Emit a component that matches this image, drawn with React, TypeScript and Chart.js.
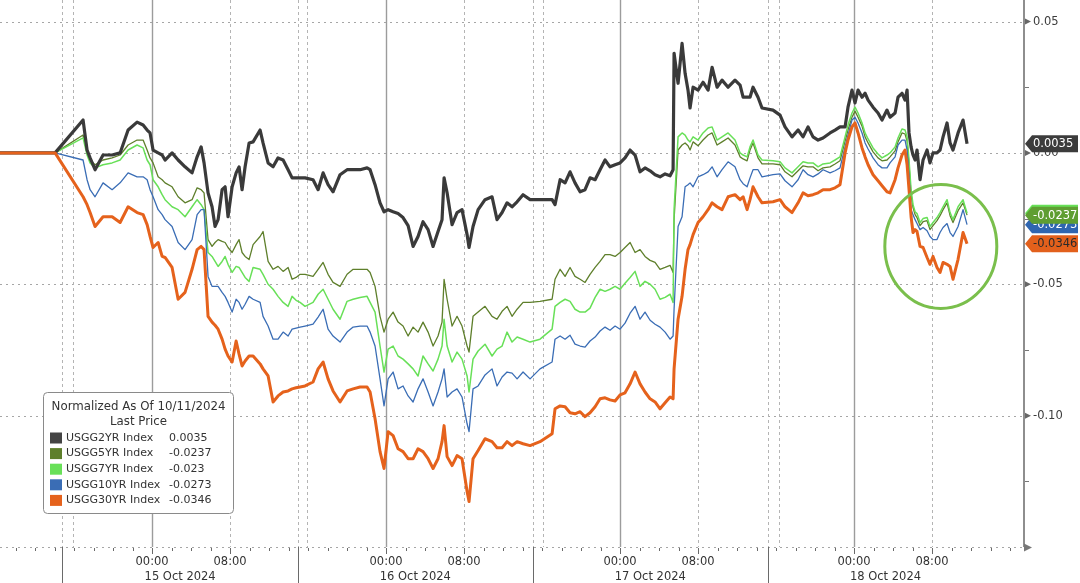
import { useEffect, useRef } from 'react';
import Chart from 'chart.js/auto';

// hours after 00:00 on 15 Oct 2024
const times = [
  // 14 Oct afternoon
  -15.6, -9.95, -7.08, -6.67, -6.36, -5.85, -5.03, -4.1, -3.28, -2.46, -1.54,
  // 15 Oct
  -0.92, -0.51, -0.21, 0.1, 0.62, 1.03, 1.33, 2.05, 2.67, 3.38,
  4.1, 4.62, 5.03, 5.33, 5.74, 6.15, 6.46, 6.77, 7.18, 7.49,
  7.79, 8.21, 8.62, 8.92, 9.23, 9.54, 9.95, 10.36, 11.08, 11.38,
  11.9, 12.41, 12.92, 13.44, 13.95, 14.36, 14.77, 15.18, 15.69,
  16.51, 17.03, 17.54, 18.05, 18.56, 19.28, 20.0, 20.62, 21.33, 22.05,
  // 16 Oct
  22.36, 22.87, 23.38, 23.79, 24.21, 24.72, 25.23, 25.74, 26.26, 26.77,
  27.28, 27.79, 28.31, 28.82, 29.33, 29.74, 29.95, 30.26, 30.77, 31.28,
  31.79, 32.31, 32.51, 32.92, 33.44, 34.15, 34.87, 35.38, 35.9, 36.41,
  36.92, 37.44, 38.05, 38.77, 39.79, 41.03,
  // 17 Oct
  41.33, 41.85, 42.36, 42.87, 43.38, 43.9, 44.41, 44.92, 45.44, 45.95,
  46.46, 46.97, 47.49, 48.0, 48.51, 49.03, 49.54, 50.05, 50.56, 51.08,
  51.59, 52.1, 52.62, 53.13, 53.44,
  53.54, 53.95, 54.36, 54.67, 54.97, 55.18, 55.49, 56.0, 56.51, 57.03,
  57.44, 57.95, 58.46, 59.08, 59.79, 60.31, 60.62, 61.03, 61.33, 61.64,
  62.15, 62.56, 63.69, 64.41, 64.92, 65.64, 66.26, 66.77, 67.28, 67.79,
  68.31, 68.82, 69.54, 70.05, 70.56,
  // 18 Oct
  71.08, 71.38, 71.79, 72.1, 72.41, 72.82, 73.13, 73.44, 73.95, 74.46,
  74.87, 75.38, 75.69, 76.21, 76.51, 76.92, 77.23, 77.44, 77.64, 77.85,
  78.05, 78.26, 78.46, 78.77, 79.08, 79.49, 79.79, 80.1, 80.51, 80.82,
  81.13, 81.54, 81.85, 82.15, 82.67, 83.18, 83.59,
];

const usgg2yr = [
  0, 0, 0.0125, 0.0011, -0.0019, -0.0064, -0.0008, -0.0008, 0, 0.0087, 0.0117,
  0.0106, 0.0087, 0.0076, 0.0011, 0, -0.0008, -0.0027, 0, -0.0027, -0.0053,
  -0.0076, -0.0015, 0.0023, -0.0038, -0.0152, -0.0205, -0.028, -0.0254, -0.014, -0.0129,
  -0.0243, -0.0129, -0.0076, -0.0053, -0.014, -0.0053, 0.0038, 0.0042, 0.0087, 0.0038,
  -0.0038, -0.0053, -0.0019, -0.0027, -0.0064, -0.0095, -0.0095, -0.0095, -0.0095,
  -0.0102, -0.014, -0.0076, -0.0121, -0.0148, -0.0083, -0.0064, -0.0064, -0.0064, -0.0057,
  -0.0064, -0.0121, -0.019, -0.0224, -0.0216, -0.0224, -0.0231, -0.0246, -0.0277, -0.0356,
  -0.0318, -0.0262, -0.0292, -0.0356, -0.0299, -0.0254, -0.0095, -0.0152, -0.0273, -0.0227,
  -0.0216, -0.0311, -0.036, -0.028, -0.0216, -0.0178, -0.0167, -0.0254, -0.0227, -0.019,
  -0.0205, -0.0186, -0.0159, -0.0178, -0.0178, -0.0178,
  -0.0197, -0.0102, -0.0114, -0.0072, -0.0114, -0.0148, -0.014, -0.0095, -0.0102, -0.0064,
  -0.0027, -0.0053, -0.0045, -0.0038, -0.0019, 0.0011, -0.0008, -0.0072, -0.0057, -0.0068,
  -0.0083, -0.0091, -0.008, -0.0087, -0.0064,
  0.0379, 0.0265, 0.0417, 0.0303, 0.0239, 0.0171, 0.025, 0.0239, 0.0269, 0.0239,
  0.0326, 0.025, 0.0277, 0.025, 0.0277, 0.0258, 0.0212, 0.0212, 0.0212, 0.025,
  0.0212, 0.0171, 0.0163, 0.0144, 0.0099, 0.0061, 0.0087, 0.0061, 0.0099, 0.0061,
  0.0049, 0.0057, 0.0076, 0.0087, 0.0099,
  0.0099, 0.0174, 0.0239, 0.019, 0.0239, 0.0212, 0.0227, 0.0201, 0.0174, 0.0152,
  0.0125, 0.0163, 0.0136, 0.0152, 0.0212, 0.0227, 0.0201, 0.0239, 0.0076, 0.0023,
  -0.0008, -0.0027, 0.0011, -0.0102, -0.0027, 0.0011, -0.0038, 0, 0, 0.0011,
  0.0061, 0.0114, 0.0038, 0.0011, 0.0076, 0.0125, 0.0035,
];

const usgg5yr = [
  0, 0, 0.0068, 0.0011, -0.0027, -0.0045, -0.0027, -0.0019, -0.0008, 0.003, 0.0049,
  0.0049, 0.0011, -0.0019, -0.0038, -0.0091, -0.0102, -0.0114, -0.0129, -0.0167, -0.019,
  -0.0178, -0.0133, -0.014, -0.0152, -0.033, -0.0356, -0.0341, -0.033, -0.0337, -0.0341,
  -0.036, -0.0379, -0.0349, -0.033, -0.0379, -0.0394, -0.0406, -0.0349, -0.0318, -0.0299,
  -0.0413, -0.0443, -0.0432, -0.0451, -0.0436, -0.0481, -0.0474, -0.0462, -0.0462,
  -0.047, -0.0443, -0.0417, -0.0462, -0.0493, -0.0508, -0.0462, -0.0443, -0.0443, -0.0443,
  -0.0455, -0.0508, -0.0622, -0.0682, -0.0633, -0.0606, -0.0644, -0.0659, -0.0697, -0.0663,
  -0.0682, -0.0644, -0.0682, -0.0735, -0.0697, -0.0644, -0.0481, -0.0557, -0.0659, -0.0622,
  -0.0659, -0.0735, -0.0758, -0.0622, -0.0606, -0.0584, -0.0622, -0.0633, -0.0603, -0.0584,
  -0.0622, -0.0595, -0.0569, -0.0569, -0.0565, -0.0557,
  -0.0481, -0.0443, -0.047, -0.0436, -0.047, -0.0481, -0.0493, -0.0462, -0.0436, -0.0413,
  -0.0387, -0.0387, -0.0394, -0.0379, -0.036, -0.0341, -0.0379, -0.0368, -0.0394, -0.0409,
  -0.0417, -0.0443, -0.0436, -0.0428, -0.0455,
  -0.0254, 0.0011, 0.003, 0.0038, 0.0027, 0.0011, 0.0042, 0.0027, 0.0049, 0.0068,
  0.0076, 0.003, 0.0042, 0.0057, 0.003, -0.0015, -0.0023, -0.003, 0.0011, 0.0038,
  -0.0019, -0.0042, -0.0042, -0.0045, -0.0072, -0.0091, -0.0068, -0.0049, -0.0053, -0.0053,
  -0.0068, -0.0057, -0.0053, -0.0042, -0.003,
  0.0045, 0.0087, 0.0136, 0.0159, 0.0136, 0.0102, 0.0061, 0.0038, 0.0004, -0.0019,
  -0.003, -0.0027, -0.0015, 0.0008, 0.0042, 0.0076, 0.0072, 0.0045, -0.0045, -0.0159,
  -0.0208, -0.0235, -0.0246, -0.0277, -0.0262, -0.0258, -0.0292, -0.0277, -0.0258, -0.0239,
  -0.0216, -0.019, -0.0239, -0.0265, -0.022, -0.019, -0.0237,
];

const usgg7yr = [
  0, 0, 0.0057, -0.0008, -0.0038, -0.0057, -0.0045, -0.0038, -0.0027, 0.0011, 0.003,
  0.0019, -0.0027, -0.0045, -0.0102, -0.0129, -0.0159, -0.0178, -0.0205, -0.0216, -0.0243,
  -0.0205, -0.0178, -0.0197, -0.0216, -0.0379, -0.0394, -0.0413, -0.0432, -0.0413, -0.0394,
  -0.0424, -0.0455, -0.0432, -0.0436, -0.0455, -0.0474, -0.0489, -0.0436, -0.0443, -0.0462,
  -0.05, -0.0519, -0.0546, -0.0569, -0.0584, -0.0546, -0.0561, -0.0569, -0.0584,
  -0.0569, -0.0538, -0.0519, -0.0557, -0.0595, -0.0633, -0.0565, -0.0557, -0.055, -0.0546,
  -0.0569, -0.0606, -0.0735, -0.0834, -0.0747, -0.0735, -0.0773, -0.0785, -0.0803, -0.0822,
  -0.0849, -0.0773, -0.0803, -0.083, -0.0785, -0.0735, -0.0633, -0.0735, -0.0796, -0.0758,
  -0.0785, -0.0849, -0.091, -0.0785, -0.0754, -0.0728, -0.0773, -0.0747, -0.0735, -0.0682,
  -0.072, -0.0701, -0.0709, -0.072, -0.0709, -0.0671,
  -0.0584, -0.0569, -0.0557, -0.0565, -0.0595, -0.0606, -0.0606, -0.0591, -0.055, -0.0519,
  -0.0527, -0.0519, -0.0508, -0.0519, -0.0496, -0.0474, -0.0451, -0.0508, -0.0489, -0.05,
  -0.0519, -0.0557, -0.055, -0.0538, -0.0569,
  -0.0216, 0.0061, 0.0076, 0.0068, 0.0049, 0.0042, 0.0061, 0.0049, 0.0076, 0.0095,
  0.0099, 0.0049, 0.0061, 0.0076, 0.0049, 0, -0.0008, -0.0015, 0.0023, 0.0049,
  -0.0008, -0.0027, -0.003, -0.0034, -0.0057, -0.0076, -0.0053, -0.0034, -0.0038, -0.0038,
  -0.0053, -0.0042, -0.0038, -0.0027, -0.0015,
  0.0061, 0.0106, 0.0152, 0.0174, 0.0152, 0.0114, 0.0076, 0.0053, 0.0019, -0.0004,
  -0.0019, -0.0008, 0, 0.0023, 0.0057, 0.0091, 0.0087, 0.0061, -0.0027, -0.014,
  -0.0197, -0.0224, -0.0231, -0.0265, -0.025, -0.0246, -0.028, -0.0265, -0.0246, -0.0227,
  -0.0205, -0.0178, -0.0227, -0.0254, -0.0205, -0.0178, -0.023,
];

const usgg10yr = [
  0, 0, -0.0027, -0.0102, -0.014, -0.0167, -0.0114, -0.014, -0.0114, -0.0076, -0.0091,
  -0.0091, -0.0102, -0.014, -0.0167, -0.0216, -0.0235, -0.0254, -0.028, -0.0341, -0.0368,
  -0.033, -0.0235, -0.0216, -0.0216, -0.047, -0.0508, -0.0508, -0.0508, -0.0531, -0.0546,
  -0.0569, -0.0606, -0.0557, -0.0569, -0.0595, -0.0576, -0.0546, -0.0557, -0.0569, -0.0622,
  -0.0659, -0.0709, -0.0709, -0.0682, -0.0697, -0.0671, -0.0667, -0.0663, -0.0659,
  -0.0652, -0.0625, -0.0595, -0.0671, -0.0697, -0.072, -0.0682, -0.0663, -0.0659, -0.0659,
  -0.0682, -0.0735, -0.086, -0.0963, -0.086, -0.0834, -0.0898, -0.0887, -0.0925, -0.0948,
  -0.0898, -0.086, -0.091, -0.0963, -0.091, -0.086, -0.0822, -0.0929, -0.091, -0.0898,
  -0.0929, -0.1031, -0.1061, -0.0898, -0.0887, -0.0845, -0.0822, -0.0887, -0.0853, -0.0834,
  -0.0838, -0.086, -0.0834, -0.086, -0.0822, -0.0796,
  -0.0709, -0.0697, -0.0709, -0.0694, -0.0728, -0.0735, -0.0739, -0.0716, -0.0701, -0.0678,
  -0.0663, -0.0675, -0.0659, -0.0671, -0.0648, -0.061, -0.0584, -0.0633, -0.0606, -0.0637,
  -0.0652, -0.0663, -0.0682, -0.0709, -0.0697,
  -0.0595, -0.028, -0.0243, -0.0129, -0.0121, -0.0114, -0.0129, -0.0091, -0.0083, -0.0072,
  -0.0053, -0.0091, -0.0064, -0.0034, -0.0053, -0.0102, -0.0117, -0.0129, -0.0095, -0.0064,
  -0.0064, -0.0091, -0.0083, -0.008, -0.0106, -0.0129, -0.0102, -0.0064, -0.0083, -0.0091,
  -0.008, -0.0064, -0.0076, -0.0068, -0.0057,
  0.0023, 0.0068, 0.0125, 0.0136, 0.0114, 0.0076, 0.0038, 0.0015, -0.0019, -0.0045,
  -0.0057, -0.0057, -0.0038, -0.0015, 0.003, 0.0049, 0.0049, 0.0011, -0.0083, -0.0216,
  -0.0235, -0.0254, -0.0269, -0.0292, -0.0284, -0.0296, -0.0318, -0.033, -0.033, -0.0303,
  -0.0284, -0.0269, -0.0303, -0.0318, -0.028, -0.0216, -0.0273,
];

const usgg30yr = [
  0, 0, -0.0167, -0.0197, -0.0227, -0.028, -0.0243, -0.0243, -0.0265, -0.0205, -0.0227,
  -0.0235, -0.0273, -0.0318, -0.036, -0.0341, -0.0394, -0.0398, -0.0436, -0.0557, -0.0531,
  -0.0443, -0.0368, -0.0356, -0.0368, -0.0622, -0.0644, -0.0656, -0.0671, -0.0709, -0.0747,
  -0.0773, -0.0796, -0.0716, -0.0766, -0.0811, -0.0792, -0.0773, -0.0773, -0.0803, -0.0822,
  -0.0849, -0.0948, -0.0925, -0.091, -0.0906, -0.0898, -0.0894, -0.0891, -0.0887,
  -0.0872, -0.0822, -0.0796, -0.086, -0.0906, -0.0948, -0.0906, -0.0898, -0.0891, -0.0891,
  -0.091, -0.1012, -0.1137, -0.1201, -0.1061, -0.1076, -0.1126, -0.1137, -0.1164, -0.1164,
  -0.1126, -0.1137, -0.1164, -0.1201, -0.1164, -0.1099, -0.1038, -0.1156, -0.119, -0.1152,
  -0.1164, -0.1289, -0.1327, -0.1164, -0.1133, -0.1088, -0.1099, -0.1122, -0.1122, -0.1099,
  -0.1114, -0.1099, -0.1107, -0.1114, -0.1099, -0.1069,
  -0.0974, -0.0963, -0.0966, -0.0989, -0.0993, -0.0985, -0.1004, -0.0989, -0.0966, -0.0936,
  -0.0932, -0.094, -0.0944, -0.0921, -0.0913, -0.0879, -0.0834, -0.0879, -0.091, -0.0936,
  -0.0948, -0.0974, -0.0951, -0.0929, -0.0936,
  -0.0822, -0.0633, -0.0546, -0.0443, -0.0368, -0.0349, -0.0311, -0.0265, -0.0243, -0.0216,
  -0.019, -0.0205, -0.0216, -0.0167, -0.0159, -0.0178, -0.0167, -0.0216, -0.0178, -0.0129,
  -0.0167, -0.019, -0.0186, -0.0178, -0.0205, -0.0227, -0.019, -0.0152, -0.0163, -0.0159,
  -0.0152, -0.014, -0.014, -0.0133, -0.0121,
  0, 0.0049, 0.0099, 0.0114, 0.0076, 0.0019, -0.0015, -0.0045, -0.0083, -0.0106,
  -0.0125, -0.0148, -0.0152, -0.0102, -0.0057, -0.0008, 0.0011, -0.0045, -0.014, -0.0243,
  -0.0303, -0.0292, -0.0299, -0.0356, -0.036, -0.0398, -0.0424, -0.0394, -0.0436, -0.0455,
  -0.0417, -0.0424, -0.0432, -0.0481, -0.0405, -0.0303, -0.0346,
];

const seriesNames = ['USGG2YR Index', 'USGG5YR Index', 'USGG7YR Index', 'USGG10YR Index', 'USGG30YR Index'];
const lastPrices = ['0.0035', '-0.0237', '-0.023', '-0.0273', '-0.0346'];
const seriesColors = ['#3a3a3a', '#5e7f2b', '#68e058', '#3a6db5', '#e5621c'];
const tagColors = ['#3c3c3c', '#5f9e32', '#68e058', '#2f66b0', '#e2601c'];

const yTicks = [0.05, 0, -0.05, -0.1];
const yTickLabels = ['0.05', '0.00', '-0.05', '-0.10'];
const hourTicks = [0, 8, 24, 32, 48, 56, 72, 80];
const hourTickLabels = ['00:00', '08:00', '00:00', '08:00', '00:00', '08:00', '00:00', '08:00'];
const dayLabels = ['15 Oct 2024', '16 Oct 2024', '17 Oct 2024', '18 Oct 2024'];
const sessionBreaks = [-9.2, 14.95, 39.05, 63.15, 87.3];
const sessionOpens = [-8.1, 15.85, 40.1, 64.3];

const legendTitle = 'Normalized As Of 10/11/2024';
const legendSubtitle = 'Last Price';
// green ring drawn round the last hours of 18 Oct
const ringCenter = { x: 80.9, y: -0.0356 };

const FONT = '"DejaVu Sans", Verdana, sans-serif';

const framePlugin = {
  id: 'bloombergFrame',
  beforeDatasetsDraw(chart: any) {
    const { ctx, chartArea: a, scales } = chart;
    const xs = scales.x;
    const ys = scales.y;
    const vline = (h: number) => {
      const px = Math.round(xs.getPixelForValue(h)) + 0.5;
      ctx.beginPath();
      ctx.moveTo(px, a.top);
      ctx.lineTo(px, a.bottom);
      ctx.stroke();
    };
    ctx.save();
    ctx.lineWidth = 1;
    ctx.strokeStyle = '#a6a6a6';
    ctx.setLineDash([2, 4]);
    [...yTicks, -0.15].forEach((v) => {
      const py = Math.round(ys.getPixelForValue(v)) + 0.5;
      ctx.beginPath();
      ctx.moveTo(a.left, py);
      ctx.lineTo(a.right, py);
      ctx.stroke();
    });
    ctx.strokeStyle = '#b4b4b4';
    ctx.setLineDash([3, 3]);
    hourTicks.filter((_, i) => hourTickLabels[i] !== '00:00').forEach(vline);
    sessionBreaks.slice(0, 4).forEach(vline);
    sessionOpens.forEach(vline);
    ctx.setLineDash([]);
    ctx.strokeStyle = '#9c9c9c';
    ctx.lineWidth = 1.4;
    hourTicks.filter((_, i) => hourTickLabels[i] === '00:00').forEach(vline);
    ctx.restore();
  },
  afterDraw(chart: any) {
    const { ctx, chartArea: a, scales, width, height } = chart;
    const xs = scales.x;
    const ys = scales.y;
    ctx.save();

    // ring annotation
    ctx.strokeStyle = '#7abf4c';
    ctx.lineWidth = 3;
    ctx.beginPath();
    ctx.ellipse(xs.getPixelForValue(ringCenter.x), ys.getPixelForValue(ringCenter.y), 56, 62, 0, 0, Math.PI * 2);
    ctx.stroke();

    // right value axis
    const ax = a.right + 1;
    ctx.strokeStyle = '#8e8e8e';
    ctx.lineWidth = 2;
    ctx.beginPath();
    ctx.moveTo(ax, a.top);
    ctx.lineTo(ax, a.bottom);
    ctx.stroke();
    ctx.fillStyle = '#777';
    ctx.beginPath();
    ctx.moveTo(ax, a.bottom - 3.5);
    ctx.lineTo(ax + 8, a.bottom + 0.5);
    ctx.lineTo(ax, a.bottom + 4.5);
    ctx.fill();

    ctx.font = `11.5px ${FONT}`;
    ctx.textBaseline = 'middle';
    ctx.textAlign = 'left';
    yTicks.forEach((v, i) => {
      const py = ys.getPixelForValue(v);
      ctx.fillStyle = '#666';
      ctx.beginPath();
      ctx.moveTo(ax + 1, py - 3);
      ctx.lineTo(ax + 7, py);
      ctx.lineTo(ax + 1, py + 3);
      ctx.fill();
      ctx.fillStyle = '#3c3c3c';
      ctx.fillText(yTickLabels[i], ax + 9, py);
      const mid = ys.getPixelForValue(v - 0.025);
      ctx.strokeStyle = '#777';
      ctx.lineWidth = 1;
      ctx.beginPath();
      ctx.moveTo(ax + 1, Math.round(mid) + 0.5);
      ctx.lineTo(ax + 5, Math.round(mid) + 0.5);
      ctx.stroke();
    });

    // time axis underneath
    ctx.strokeStyle = '#6a6a6a';
    ctx.lineWidth = 1;
    sessionBreaks.slice(0, 4).forEach((h) => {
      const px = Math.round(xs.getPixelForValue(h)) + 0.5;
      ctx.beginPath();
      ctx.moveTo(px, a.bottom);
      ctx.lineTo(px, height);
      ctx.stroke();
    });
    for (let h = -14; h <= 88; h += 2) {
      const px = Math.round(xs.getPixelForValue(h)) + 0.5;
      const len = hourTicks.includes(h) ? 6 : 3;
      ctx.beginPath();
      ctx.moveTo(px, a.bottom + 1);
      ctx.lineTo(px, a.bottom + 1 + len);
      ctx.stroke();
    }
    ctx.fillStyle = '#333';
    ctx.textAlign = 'center';
    hourTicks.forEach((h, i) => {
      ctx.fillText(hourTickLabels[i], xs.getPixelForValue(h), a.bottom + 15);
    });
    dayLabels.forEach((d, i) => {
      const mid = (xs.getPixelForValue(sessionBreaks[i]) + xs.getPixelForValue(sessionBreaks[i + 1])) / 2;
      ctx.fillText(d, mid, a.bottom + 30);
    });

    // last price tags on the right axis
    const series = [usgg2yr, usgg5yr, usgg7yr, usgg10yr, usgg30yr];
    [2, 3, 1, 4, 0].forEach((k) => {
      const py = ys.getPixelForValue(series[k][series[k].length - 1]);
      ctx.fillStyle = tagColors[k];
      ctx.beginPath();
      ctx.moveTo(ax + 1, py);
      ctx.lineTo(ax + 8, py - 8.5);
      ctx.lineTo(width - 2, py - 8.5);
      ctx.lineTo(width - 2, py + 8.5);
      ctx.lineTo(ax + 8, py + 8.5);
      ctx.closePath();
      ctx.fill();
      ctx.fillStyle = k === 4 || k === 2 ? '#2a2a2a' : '#ffffff';
      ctx.textAlign = 'left';
      ctx.fillText(lastPrices[k], ax + 9, py + 0.5);
    });

    // legend box
    const lx = 43.5;
    const ly = 392.5;
    const lw = 190;
    const lh = 121;
    ctx.fillStyle = '#ffffff';
    ctx.strokeStyle = '#8a8a8a';
    ctx.lineWidth = 1;
    ctx.beginPath();
    ctx.roundRect(lx, ly, lw, lh, 4);
    ctx.fill();
    ctx.stroke();
    ctx.font = `11.8px ${FONT}`;
    ctx.fillStyle = '#333';
    ctx.textAlign = 'center';
    ctx.fillText(legendTitle, lx + lw / 2, ly + 14);
    ctx.fillText(legendSubtitle, lx + lw / 2, ly + 29.5);
    ctx.font = `11px ${FONT}`;
    ctx.textAlign = 'left';
    seriesNames.forEach((name, i) => {
      const ry = ly + 45.5 + i * 15.6;
      ctx.fillStyle = i === 0 ? '#444' : seriesColors[i];
      ctx.fillRect(50, ry - 5.5, 12, 11);
      ctx.fillStyle = '#333';
      ctx.fillText(name, 66, ry);
      ctx.fillText(lastPrices[i], 169, ry);
    });

    ctx.restore();
  },
};

export default function App() {
  const chartRef = useRef<HTMLCanvasElement>(null);
  const chartInstance = useRef<Chart | null>(null);

  useEffect(() => {
    if (!chartRef.current) return;
    if (chartInstance.current) {
      chartInstance.current.destroy();
    }
    const ctx = chartRef.current.getContext('2d');
    if (!ctx) return;

    const values = [usgg2yr, usgg5yr, usgg7yr, usgg10yr, usgg30yr];
    const widths = [3.2, 1.3, 1.5, 1.3, 3];
    // orange on top, then the 2yr, the thin lines underneath
    const orders = [1, 4, 3, 2, 0];

    chartInstance.current = new Chart(ctx, {
      type: 'line',
      data: {
        datasets: values.map((vals, i) => ({
          label: seriesNames[i],
          data: times.map((t, j) => ({ x: t, y: vals[j] })),
          borderColor: seriesColors[i],
          borderWidth: widths[i],
          pointRadius: 0,
          tension: 0,
          borderJoinStyle: 'round' as const,
          order: orders[i],
        })),
      },
      options: {
        animation: false,
        responsive: true,
        maintainAspectRatio: false,
        layout: { padding: { left: 0, top: 0, right: 57, bottom: 36 } },
        plugins: {
          legend: { display: false },
          tooltip: { enabled: false },
        },
        scales: {
          x: { type: 'linear', display: false, min: -15.6, max: 89.33 },
          y: { type: 'linear', display: false, min: -0.15, max: 0.0582 },
        },
      },
      plugins: [framePlugin],
    });

    return () => {
      if (chartInstance.current) {
        chartInstance.current.destroy();
        chartInstance.current = null;
      }
    };
  }, []);

  return (
    <div style={{ position: 'fixed', left: 0, top: 0, width: 1080, height: 583, background: '#ffffff' }}>
      <canvas ref={chartRef} />
    </div>
  );
}
